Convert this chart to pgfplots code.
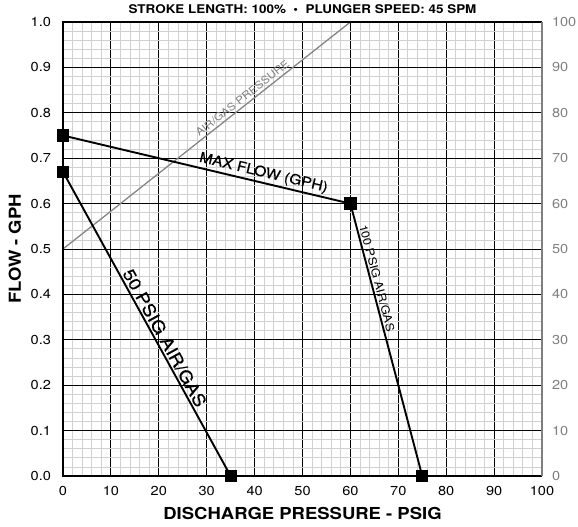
\documentclass[border=0pt]{standalone}
\usepackage{fontspec}
\setmainfont{TeX Gyre Heros}[FakeStretch=1.12]
\newfontfamily\medfont{TeX Gyre Heros}[FakeStretch=1.12, FakeBold=0.4]
\usepackage{pgfplots}
\pgfplotsset{compat=1.18}
\definecolor{gridminor}{HTML}{D0D0D0}
\definecolor{rightgray}{HTML}{808080}
\definecolor{linegray}{HTML}{858585}
\begin{document}
\begin{tikzpicture}
\begin{axis}[
  scale only axis, width=479pt, height=454pt,
  xmin=0, xmax=100, ymin=0, ymax=1,
  xtick={0,10,20,30,40,50,60,70,80,90,100},
  ytick={0,0.1,0.2,0.3,0.4,0.5,0.6,0.7,0.8,0.9,1.0},
  yticklabel style={xshift=-8.5pt},
  y tick label style={/pgf/number format/.cd,fixed,fixed zerofill,precision=1},
  /pgf/number format/assume math mode=true,
  minor x tick num=4, minor y tick num=4,
  grid=both,
  major grid style={black, line width=0.9pt},
  minor grid style={gridminor, line width=0.8pt},
  major tick length=0pt, minor tick length=0pt,
  axis line style={draw=none},
  tick label style={font=\fontsize{13}{13}\selectfont},
  xticklabel style={yshift=-6.5pt},
  xlabel={DISCHARGE PRESSURE - PSIG},
  ylabel={FLOW - GPH},
  label style={font=\bfseries\fontsize{16.5}{16.5}\selectfont},
  xlabel style={at={(rel axis cs:0.5,0)}, anchor=base, yshift=-43pt},
  ylabel style={at={(rel axis cs:0,0.5)}, anchor=base, yshift=42pt},
  every axis title shift=0pt,
  title={STROKE LENGTH: 100\%\ \ \textbullet\ \ PLUNGER SPEED: 45 SPM},
  title style={at={(rel axis cs:0.5,1)}, anchor=base, yshift=8pt, font=\bfseries\fontsize{12}{12}\selectfont},
  clip=false,
]
\addplot[linegray, line width=1.3pt] coordinates {(0,0.5) (60,1.0)}
  node[pos=0.64, sloped, above, text=rightgray, font=\fontsize{10.5}{10.5}\selectfont, inner sep=2.5pt] {AIR/GAS PRESSURE};
\addplot[black, line width=1.9pt, mark=square*, mark size=5.2pt] coordinates {(0,0.75) (60,0.6)}
  node[pos=0.69, sloped, above, font=\medfont\fontsize{14}{14}\selectfont, inner sep=2pt] {MAX FLOW (GPH)};
\addplot[black, line width=1.9pt, mark=square*, mark size=5.2pt] coordinates {(0,0.67) (35,0)}
  node[pos=0.56, sloped, above, font=\medfont\fontsize{17}{17}\selectfont, inner sep=1.5pt] {50 PSIG AIR/GAS};
\addplot[black, line width=1.9pt, mark=square*, mark size=5.2pt] coordinates {(60,0.6) (75,0)}
  node[pos=0.28, sloped, above, font=\fontsize{11.3}{11.3}\selectfont, inner sep=1.5pt] {100 PSIG AIR/GAS};
\draw[black, line width=2.2pt] (rel axis cs:1,1) -- (rel axis cs:0,1) -- (rel axis cs:0,0) -- (rel axis cs:1,0);
\end{axis}
\begin{axis}[
  scale only axis, width=479pt, height=454pt,
  xmin=0, xmax=100, ymin=0, ymax=100,
  axis x line=none, axis y line*=right,
  ytick={0,10,20,30,40,50,60,70,80,90,100},
  major tick length=0pt, minor tick length=0pt,
  axis line style={rightgray, line width=1.4pt},
  /pgf/number format/assume math mode=true,
  yticklabel style={text=rightgray, font=\fontsize{13}{13}\selectfont, xshift=6.5pt},
]
\end{axis}
\pgfresetboundingbox
\path (-63pt,-51pt) rectangle (515pt,476pt);
\end{tikzpicture}
\end{document}
